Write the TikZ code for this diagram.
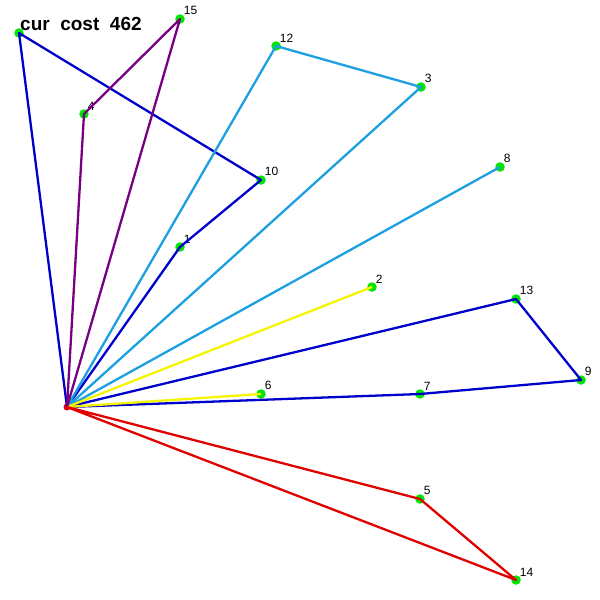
\documentclass[tikz,border=0pt]{standalone}
\usepackage{fontspec}
\setmainfont{Liberation Sans}
\usetikzlibrary{positioning}
\definecolor{rtazul}{RGB}{0,0,205}
\definecolor{rtceleste}{RGB}{28,160,226}
\definecolor{rtroxo}{RGB}{120,0,130}
\definecolor{rtvermelho}{RGB}{225,0,0}
\definecolor{rtamarelo}{RGB}{245,245,0}
\definecolor{rtverde}{RGB}{0,230,0}
\tikzset{
  rtcliente/.style={circle, fill=rtverde, draw=none, minimum size=9.5pt, inner sep=0pt,
                    label={[rtrotulo, label distance=-1pt]45:#1}},
  rtdeposito/.style={circle, fill=rtvermelho, draw=none, minimum size=7pt, inner sep=0pt},
  rtrotulo/.style={font=\fontsize{12}{12}\selectfont, text=black, inner sep=1pt},
  rtrota/.style={line width=2.3pt, line join=round, draw=#1},
  rttitulo/.style={font=\fontsize{19}{19}\selectfont\bfseries, text=black, inner sep=0pt},
}

\begin{document}
\begin{tikzpicture}[x=1pt, y=-1pt]
    \useasboundingbox[fill=white] (0,0) rectangle (600,600);
    % ---------------- clientes ----------------
    \node[rtdeposito] (dep) at (67,407) {};
    \node[rtcliente=1]  (c1)  at (180,247) {};
    \node[rtcliente=2]  (c2)  at (372,287) {};
    \node[rtcliente=3]  (c3)  at (421,87) {};
    \node[rtcliente=4]  (c4)  at (84,114) {};
    \node[rtcliente=5]  (c5)  at (420,499) {};
    \node[rtcliente=6]  (c6)  at (261,394) {};
    \node[rtcliente=7]  (c7)  at (420,394) {};
    \node[rtcliente=8]  (c8)  at (500,167) {};
    \node[rtcliente=9]  (c9)  at (581,380) {};
    \node[rtcliente=10] (c10) at (261,180) {};
    \node[rtcliente={}] (c11) at (19,33) {};
    \node[rtcliente=12] (c12) at (276,46) {};
    \node[rtcliente=13] (c13) at (516,299) {};
    \node[rtcliente=14] (c14) at (516,580) {};
    \node[rtcliente=15] (c15) at (180,19) {};
    % ---------------- rotas ----------------
    \draw[rtrota=rtazul] (dep.center) -- (c11.center) -- (c10.center) -- (c1.center) -- (dep.center);
    \draw[rtrota=rtazul] (dep.center) -- (c13.center) -- (c9.center) -- (c7.center) -- (dep.center);
    \draw[rtrota=rtceleste] (dep.center) -- (c12.center) -- (c3.center) -- (dep.center);
    \draw[rtrota=rtceleste] (dep.center) -- (c8.center);
    \draw[rtrota=rtamarelo] (dep.center) -- (c2.center);
    \draw[rtrota=rtamarelo] (dep.center) -- (c6.center);
    \draw[rtrota=rtroxo] (dep.center) -- (c4.center) -- (c15.center) -- (dep.center);
    \draw[rtrota=rtvermelho] (dep.center) -- (c5.center) -- (c14.center) -- (dep.center);
    % ---------------- custo ----------------
    \node[rttitulo, anchor=west] (custo) at (20,24) {cur\ \ cost\ \ 462};
\end{tikzpicture}
\end{document}
